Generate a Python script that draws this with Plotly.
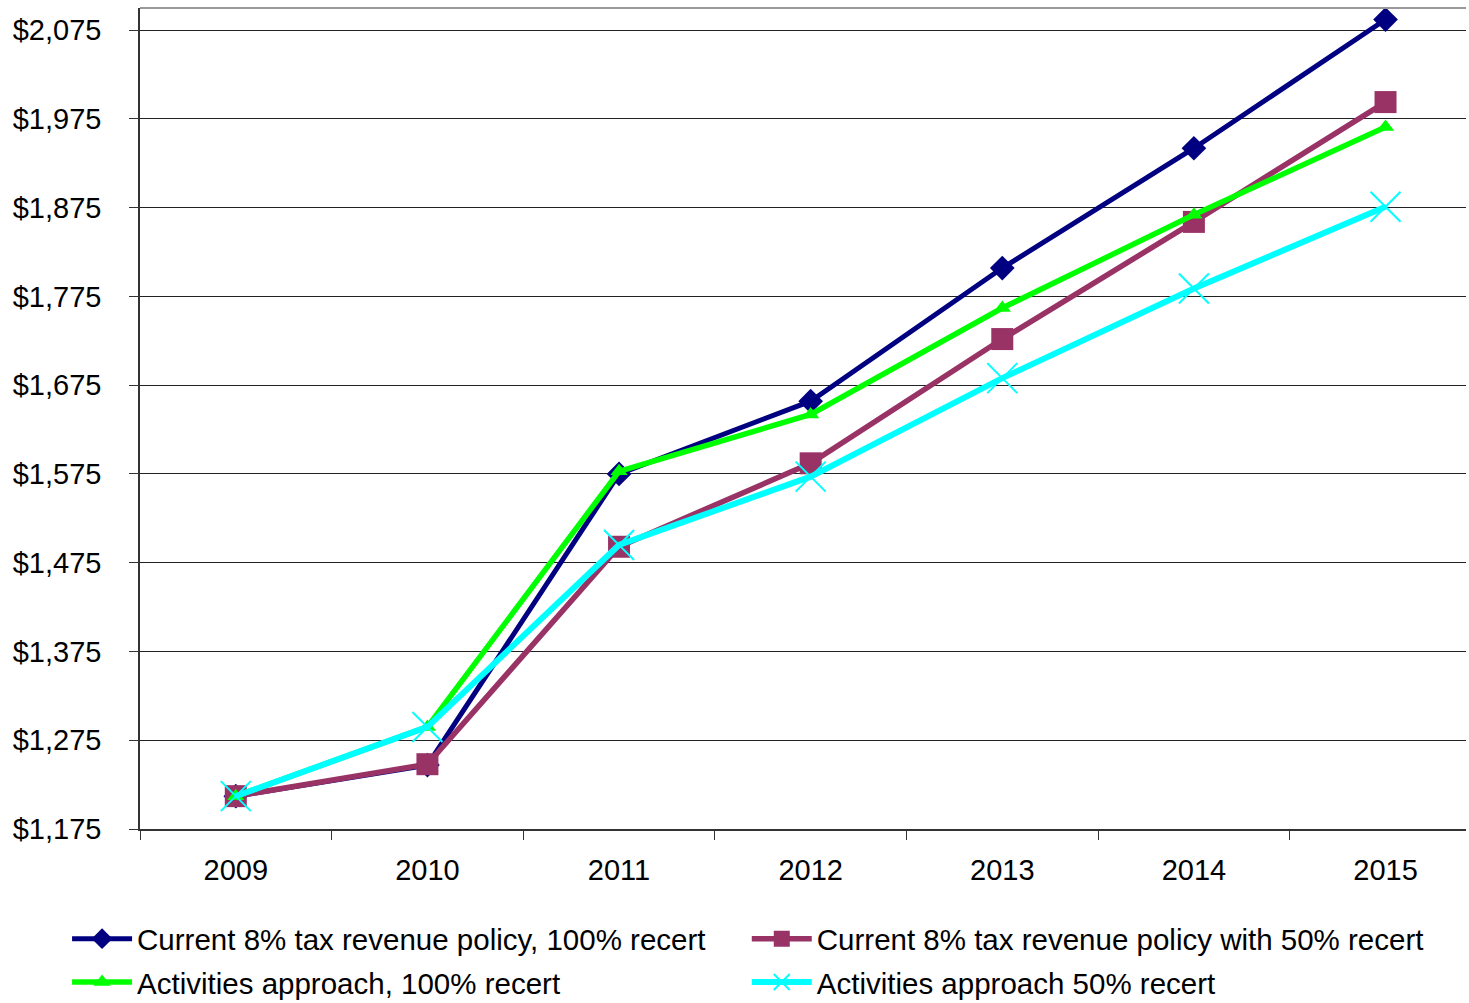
import plotly.graph_objects as go

years = ["2009", "2010", "2011", "2012", "2013", "2014", "2015"]

current_100 = [1212, 1247, 1575, 1657, 1807, 1942, 2087]
current_50 = [1212, 1248, 1493, 1587, 1727, 1859, 1994]
activities_100 = [1212, 1290, 1578, 1642, 1762, 1867, 1966]
activities_50 = [1212, 1290, 1495, 1572, 1683, 1784, 1876]

series_names = [
    "Current 8% tax revenue policy, 100% recert",
    "Current 8% tax revenue policy with 50% recert",
    "Activities approach, 100% recert",
    "Activities approach 50% recert",
]

y_ticks = [1175, 1275, 1375, 1475, 1575, 1675, 1775, 1875, 1975, 2075]

FONT = "Liberation Sans, Arial, sans-serif"

fig = go.Figure()

fig.add_trace(go.Scatter(
    x=years, y=current_100, name=series_names[0], mode="lines+markers",
    line=dict(color="#000080", width=5),
    marker=dict(symbol="diamond", size=19, color="#000080"),
    legend="legend", legendgroup="a",
))
fig.add_trace(go.Scatter(
    x=years, y=current_50, name=series_names[1], mode="lines+markers",
    line=dict(color="#993366", width=5.5),
    marker=dict(symbol="square", size=22, color="#993366"),
    legend="legend2", legendgroup="b",
))
fig.add_trace(go.Scatter(
    x=years, y=activities_100, name=series_names[2], mode="lines+markers",
    line=dict(color="#00FF00", width=5.5),
    marker=dict(symbol="triangle-up", size=15, color="#00FF00"),
    legend="legend", legendgroup="c",
))
fig.add_trace(go.Scatter(
    x=years, y=activities_50, name=series_names[3], mode="lines+markers",
    line=dict(color="#00FFFF", width=6),
    marker=dict(symbol="x-thin", size=30, color="#00FFFF",
                line=dict(color="#00FFFF", width=2)),
    legend="legend2", legendgroup="d",
))

legend_style = dict(
    orientation="v", y=-0.1023, yanchor="top", xanchor="left",
    font=dict(family=FONT, size=29.5, color="black"),
    bgcolor="rgba(0,0,0,0)", itemwidth=60, tracegroupgap=2,
    traceorder="grouped",
)

fig.update_layout(
    width=1469, height=1003,
    margin=dict(l=139.5, r=3, t=8, b=174, autoexpand=False),
    paper_bgcolor="white", plot_bgcolor="white",
    font=dict(family=FONT, size=29, color="black"),
    showlegend=True,
    legend=dict(x=-0.055, **legend_style),
    legend2=dict(x=0.4576, **legend_style),
    xaxis=dict(
        type="category", range=[-0.5, 6.42],
        tickson="boundaries", ticks="outside", ticklen=9, tickcolor="#333",
        showline=True, linecolor="#333", linewidth=1.5,
        showgrid=False, ticklabelstandoff=14,
        tickfont=dict(family=FONT, size=29),
    ),
    yaxis=dict(
        range=[1175, 2100], tickvals=y_ticks,
        ticktext=[f"${v:,}" for v in y_ticks],
        ticks="outside", ticklen=9, tickcolor="#333",
        showline=True, linecolor="#333", linewidth=1.5,
        showgrid=True, gridcolor="#222", gridwidth=1,
        zeroline=False, ticklabelstandoff=22,
        tickfont=dict(family=FONT, size=29),
    ),
    shapes=[dict(type="line", xref="paper", yref="paper", x0=0, x1=1, y0=1, y1=1,
                 line=dict(color="#999", width=2))],
)

fig.write_html("out.html")
